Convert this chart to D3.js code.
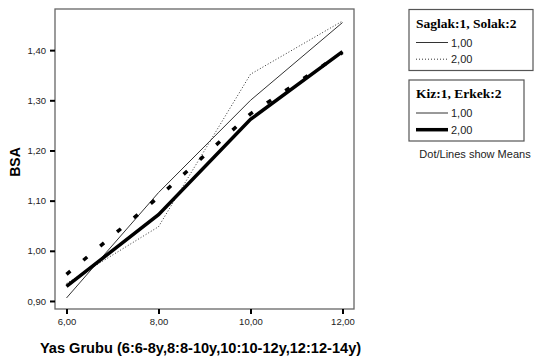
<!DOCTYPE html>
<html>
<head>
<meta charset="utf-8">
<script src="https://cdn.jsdelivr.net/npm/d3@7"></script>
<style>
  body { margin: 0; background: #fff; }
  svg { display: block; }
</style>
</head>
<body>
<svg id="chart" width="536" height="361"></svg>
<script>
// age groups on the x axis
const groups = [6, 8, 10, 12]
// mean BSA, one array per handedness / sex combination
const sagKiz = [0.906, 1.116, 1.300, 1.455]
const solakKiz = [0.935, 1.048, 1.352, 1.458]
const sagErkek = [0.929, 1.072, 1.262, 1.397]
const solakErkek = [0.953, 1.107, 1.273, 1.395]
const xTicks = [6, 8, 10, 12]
const yTicks = [0.9, 1.0, 1.1, 1.2, 1.3, 1.4]
const xTitle = "Yas Grubu (6:6-8y,8:8-10y,10:10-12y,12:12-14y)"
const yTitle = "BSA"

const svg = d3.select("#chart")
const fmt = d => d3.format(".2f")(d).replace(".", ",")

const x = d3.scaleLinear().domain([5.75, 12.25]).range([55, 354])
const y = d3.scaleLinear().domain([0.884, 1.482]).range([309, 9])

// frame
svg.append("rect")
  .attr("x", x.range()[0]).attr("y", y.range()[1])
  .attr("width", x.range()[1] - x.range()[0])
  .attr("height", y.range()[0] - y.range()[1])
  .attr("fill", "none").attr("stroke", "#666").attr("stroke-width", 1.3)

// axes
const xAxis = svg.append("g")
  .attr("transform", `translate(0,${y.range()[0]})`)
  .call(d3.axisBottom(x).tickValues(xTicks).tickFormat(fmt).tickSize(5).tickPadding(4))
const yAxis = svg.append("g")
  .attr("transform", `translate(${x.range()[0]},0)`)
  .call(d3.axisLeft(y).tickValues(yTicks).tickFormat(fmt).tickSize(5).tickPadding(4))

;[xAxis, yAxis].forEach(g => {
  g.select(".domain").remove()
  g.selectAll(".tick line").attr("stroke", "#000").attr("stroke-width", 2)
  g.selectAll(".tick text")
    .attr("font-family", "Arial, 'Liberation Sans', sans-serif")
    .attr("font-size", 9.5).attr("fill", "#222")
})

// lines
const line = d3.line().x((d, i) => x(groups[i])).y(d => y(d))
const series = [
  { data: sagKiz, width: 1, dash: null, color: "#333" },
  { data: solakKiz, width: 1, dash: "1,2", color: "#333" },
  { data: sagErkek, width: 3.5, dash: null, color: "#000" },
  { data: solakErkek, width: 3.5, dash: "5,17", color: "#000" },
]
series.forEach(s => {
  svg.append("path")
    .datum(s.data)
    .attr("d", line)
    .attr("fill", "none")
    .attr("stroke", s.color)
    .attr("stroke-width", s.width)
    .attr("stroke-dasharray", s.dash)
})

// axis titles
svg.append("text")
  .attr("x", 200.5).attr("y", 353)
  .attr("text-anchor", "middle")
  .attr("font-family", "Arial, 'Liberation Sans', sans-serif")
  .attr("font-weight", "bold").attr("font-size", 14.6)
  .text(xTitle)
svg.append("text")
  .attr("transform", "translate(20,162) rotate(-90)")
  .attr("text-anchor", "middle")
  .attr("font-family", "Arial, 'Liberation Sans', sans-serif")
  .attr("font-weight", "bold").attr("font-size", 14)
  .text(yTitle)

// legends
function legend(top, h, w, title, items) {
  const g = svg.append("g").attr("transform", `translate(409,${top})`)
  g.append("rect").attr("width", w).attr("height", h)
    .attr("fill", "#fff").attr("stroke", "#555").attr("stroke-width", 1.2)
  g.append("text").attr("x", 7).attr("y", 18)
    .attr("font-family", "'Liberation Serif', 'Times New Roman', serif")
    .attr("font-weight", "bold").attr("font-size", 13.5)
    .text(title)
  items.forEach((it, i) => {
    const yy = 33 + i * 16.7
    g.append("line").attr("x1", 7).attr("x2", 39).attr("y1", yy).attr("y2", yy)
      .attr("stroke", it.color).attr("stroke-width", it.width)
      .attr("stroke-dasharray", it.dash)
    g.append("text").attr("x", 42).attr("y", yy + 4)
      .attr("font-family", "Arial, 'Liberation Sans', sans-serif")
      .attr("font-size", 11).attr("fill", "#222")
      .text(it.label)
  })
}
legend(9.5, 61, 124, "Saglak:1, Solak:2", [
  { label: "1,00", width: 1, dash: null, color: "#333" },
  { label: "2,00", width: 1, dash: "1,2", color: "#333" },
])
legend(80, 61, 115, "Kiz:1, Erkek:2", [
  { label: "1,00", width: 1, dash: null, color: "#333" },
  { label: "2,00", width: 3.5, dash: null, color: "#000" },
])

svg.append("text")
  .attr("x", 475).attr("y", 158)
  .attr("text-anchor", "middle")
  .attr("font-family", "Arial, 'Liberation Sans', sans-serif")
  .attr("font-size", 11).attr("fill", "#222")
  .text("Dot/Lines show Means")
</script>
</body>
</html>
